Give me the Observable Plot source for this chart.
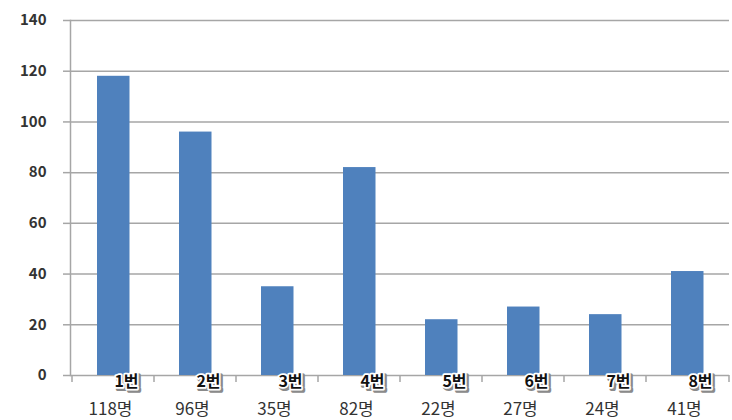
<!DOCTYPE html>
<html>
<head>
<meta charset="utf-8">
<script src="https://cdn.jsdelivr.net/npm/d3@7"></script>
<script src="https://cdn.jsdelivr.net/npm/@observablehq/plot@0.6"></script>
<style>
  html, body { margin: 0; padding: 0; background: #fff; }
  #chart svg { display: block; }
</style>
</head>
<body>
<div id="chart"></div>
<script>
const categories = ["1번", "2번", "3번", "4번", "5번", "6번", "7번", "8번"];
const counts = [118, 96, 35, 82, 22, 27, 24, 41];
const countLabels = ["118명", "96명", "35명", "82명", "22명", "27명", "24명", "41명"];
const yTicks = [0, 20, 40, 60, 80, 100, 120, 140];

const data = categories.map((c, i) => ({cat: c, value: counts[i], label: countLabels[i]}));
const gridColor = "#a6a6a6";
const font = "'Noto Sans CJK KR', 'Noto Sans', sans-serif";

// category boundary ticks below the baseline (bands have no padding, so x(d) is the band start)
function boundaryTicks(index, scales, values, dimensions) {
  const x = scales.x, y = scales.y;
  const g = d3.create("svg:g");
  const xs = categories.map(c => x(c));
  xs.push(dimensions.width - dimensions.marginRight);
  const y0 = y(0);
  for (const xv of xs) {
    g.append("line")
      .attr("x1", xv).attr("x2", xv)
      .attr("y1", y0).attr("y2", y0 + 7)
      .attr("stroke", gridColor).attr("stroke-width", 1.5);
  }
  return g.node();
}

const plot = Plot.plot({
  width: 732,
  height: 420,
  marginTop: 20,
  marginBottom: 45,
  marginLeft: 70,
  marginRight: 3,
  style: {fontFamily: font, background: "#fff"},
  x: {domain: categories, padding: 0, axis: null},
  y: {domain: [0, 140], axis: null},
  marks: [
    Plot.ruleY(yTicks, {stroke: gridColor, strokeWidth: 1.5}),
    Plot.axisY({ticks: yTicks, tickSize: 7, tickPadding: 17, stroke: gridColor, strokeWidth: 1.5,
      fill: "#333", fontSize: 15, fontWeight: 600, tickFormat: d => d, label: null}),
    Plot.frame({anchor: "left", stroke: gridColor, strokeWidth: 1.5}),
    Plot.barY(data, {x: "cat", y: "value", fill: "#4f81bd", insetLeft: 25, insetRight: 24.5}),
    boundaryTicks,
    // shadow of category label
    Plot.text(data, {x: "cat", y: 0, text: "cat", dx: 15, dy: 8, lineAnchor: "middle",
      fill: "#8a8a8a", stroke: "#8a8a8a", strokeWidth: 4, fontSize: 16, fontWeight: "bold"}),
    // category label with white halo
    Plot.text(data, {x: "cat", y: 0, text: "cat", dx: 13, dy: 6, lineAnchor: "middle",
      fill: "#111", stroke: "#fff", strokeWidth: 3.5, fontSize: 16, fontWeight: "bold"}),
    // count label
    Plot.text(data, {x: "cat", y: 0, text: "label", dx: -3, dy: 34, lineAnchor: "middle",
      fill: "#333", fontSize: 17})
  ]
});

document.getElementById("chart").appendChild(plot);
</script>
</body>
</html>
